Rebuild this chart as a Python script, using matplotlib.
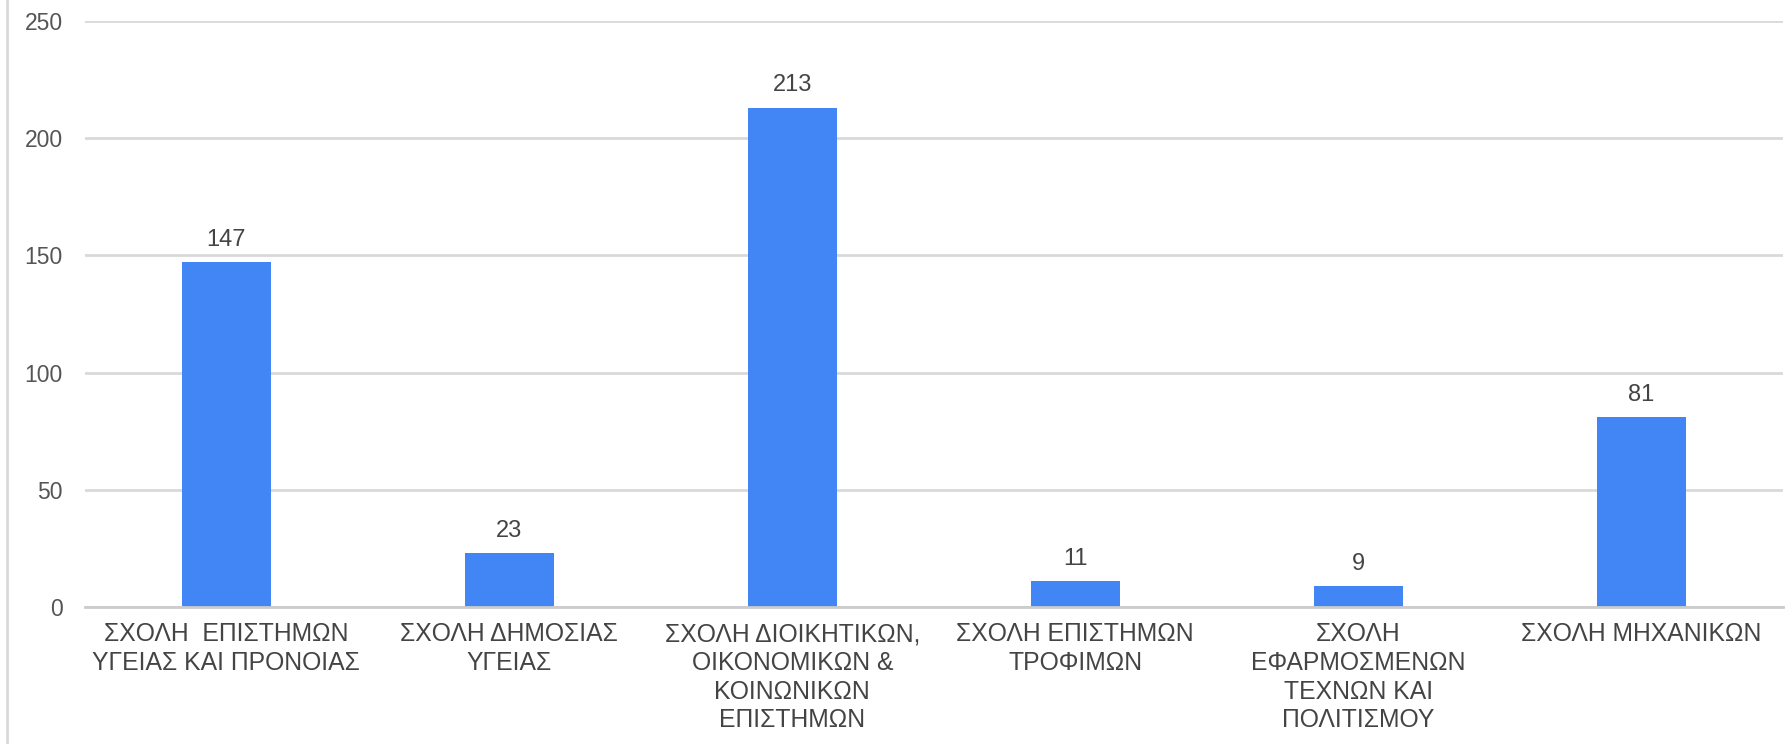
import matplotlib
matplotlib.use("Agg")
import matplotlib.pyplot as plt
from matplotlib.lines import Line2D

# Data
categories = [
    "ΣΧΟΛΗ  ΕΠΙΣΤΗΜΩΝ\nΥΓΕΙΑΣ ΚΑΙ ΠΡΟΝΟΙΑΣ",
    "ΣΧΟΛΗ ΔΗΜΟΣΙΑΣ\nΥΓΕΙΑΣ",
    "ΣΧΟΛΗ ΔΙΟΙΚΗΤΙΚΩΝ,\nΟΙΚΟΝΟΜΙΚΩΝ &\nΚΟΙΝΩΝΙΚΩΝ\nΕΠΙΣΤΗΜΩΝ",
    "ΣΧΟΛΗ ΕΠΙΣΤΗΜΩΝ\nΤΡΟΦΙΜΩΝ",
    "ΣΧΟΛΗ\nΕΦΑΡΜΟΣΜΕΝΩΝ\nΤΕΧΝΩΝ ΚΑΙ\nΠΟΛΙΤΙΣΜΟΥ",
    "ΣΧΟΛΗ ΜΗΧΑΝΙΚΩΝ",
]
values = [147, 23, 213, 11, 9, 81]
yticks = [0, 50, 100, 150, 200, 250]

plt.rcParams['font.family'] = ['Liberation Sans', 'DejaVu Sans']

fig = plt.figure(figsize=(17.88, 7.44), dpi=100)
ax = fig.add_axes([0.0475, 0.184, 0.9495, 0.788])

x = range(len(categories))
bars = ax.bar(x, values, width=0.315, color="#4285F4", zorder=3)

for b, v in zip(bars, values):
    ax.annotate(str(v), (b.get_x() + b.get_width() / 2, v),
                xytext=(0, 8), textcoords="offset points",
                ha="center", va="bottom", fontsize=17, color="#444444")

ax.set_xlim(-0.5, len(categories) - 0.5)
ax.set_ylim(0, 250)
ax.set_yticks(yticks)
ax.set_xticks(list(x))
ax.set_xticklabels(categories, fontsize=17.8, color="#444444", linespacing=1.24)
ax.tick_params(axis="y", length=0, pad=16, labelsize=16.5, labelcolor="#555555")
ax.tick_params(axis="x", length=0, pad=11)

ax.grid(axis="y", color="#d9d9d9", linewidth=2, zorder=0)
for s in ["top", "right", "left"]:
    ax.spines[s].set_visible(False)
ax.spines["bottom"].set_color("#cccccc")
ax.spines["bottom"].set_linewidth(2)
ax.spines["bottom"].set_zorder(4)

# light frame line on the left edge
fig.add_artist(Line2D([0.004, 0.004], [0, 1], color="#d9d9d9", linewidth=2,
                      transform=fig.transFigure))

fig.savefig("out.png", dpi=100, facecolor="white")
